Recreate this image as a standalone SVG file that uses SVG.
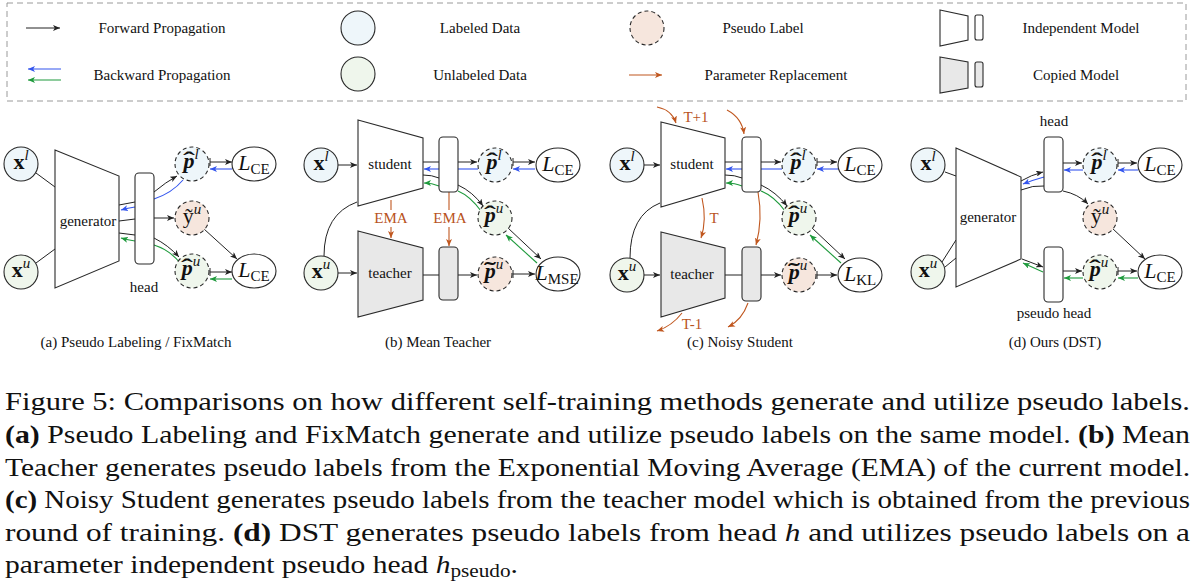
<svg xmlns="http://www.w3.org/2000/svg" width="1195" height="586" viewBox="0 0 1195 586">
<defs>
<marker id="ak" markerUnits="userSpaceOnUse" markerWidth="8" markerHeight="6" refX="7" refY="3" orient="auto"><path d="M0,0 L7,3 L0,6 L1.8,3 z" fill="#222"/></marker>
<marker id="ab" markerUnits="userSpaceOnUse" markerWidth="8" markerHeight="6" refX="7" refY="3" orient="auto"><path d="M0,0 L7,3 L0,6 L1.8,3 z" fill="#3355ee"/></marker>
<marker id="ag" markerUnits="userSpaceOnUse" markerWidth="8" markerHeight="6" refX="7" refY="3" orient="auto"><path d="M0,0 L7,3 L0,6 L1.8,3 z" fill="#1e9a3c"/></marker>
<marker id="ao" markerUnits="userSpaceOnUse" markerWidth="8" markerHeight="6" refX="7" refY="3" orient="auto"><path d="M0,0 L7,3 L0,6 L1.8,3 z" fill="#c0571f"/></marker>
<marker id="tk" markerUnits="userSpaceOnUse" markerWidth="2" markerHeight="8" refX="1" refY="4" orient="auto"><path d="M1,0 L1,8" stroke="#222" stroke-width="1"/></marker>
</defs>
<style>
text{font-family:"Liberation Serif","Times New Roman",serif;fill:#111}
.t{font-size:15px}
.m{font-size:22px}
.sp{font-size:15px;font-style:italic}
.sb{font-size:15px}
.bx{font-weight:bold}
.bi{font-weight:bold;font-style:italic}
.it{font-style:italic}
.hat{font-size:24px;font-weight:bold}
.sh{stroke:#2a2a2a;stroke-width:1.1;fill:#fff}
.cp{fill:#e8e8e8}
.lab{fill:#eef6fa}
.unl{fill:#eff6ec}
.ps{fill:#f6e6dd}
.ds{stroke-dasharray:4 3}
.k{stroke:#222;stroke-width:1;fill:none}
.kb{stroke:#222;stroke-width:1;fill:none;marker-end:url(#ak)}
.kt{stroke:#222;stroke-width:1;fill:none;marker-end:url(#ak);marker-start:url(#tk)}
.b{stroke:#3355ee;stroke-width:1.1;fill:none}
.ba{stroke:#3355ee;stroke-width:1.1;fill:none;marker-end:url(#ab)}
.g{stroke:#1e9a3c;stroke-width:1.1;fill:none}
.ga{stroke:#1e9a3c;stroke-width:1.1;fill:none;marker-end:url(#ag)}
.o{stroke:#c0571f;stroke-width:1.1;fill:none}
.oa{stroke:#c0571f;stroke-width:1.1;fill:none;marker-end:url(#ao)}
.ot{font-size:15px;fill:#b8531c}
.cap{font-size:25px}
</style>
<rect width="1195" height="586" fill="#fff"/>

<g id="legend">
<rect x="7" y="3" width="1179" height="98" fill="none" stroke="#9a9a9a" stroke-width="1" stroke-dasharray="6 4"/>
<line x1="26" y1="28" x2="60" y2="28" class="kb"/>
<text class="t" x="162" y="33" text-anchor="middle">Forward Propagation</text>
<line x1="61" y1="69" x2="28" y2="69" class="ba"/>
<line x1="61" y1="80" x2="28" y2="80" class="ga"/>
<text class="t" x="162" y="80" text-anchor="middle">Backward Propagation</text>
<circle cx="358" cy="28" r="17" class="sh lab"/>
<text class="t" x="480" y="33" text-anchor="middle">Labeled Data</text>
<circle cx="358" cy="74" r="17" class="sh unl"/>
<text class="t" x="480" y="80" text-anchor="middle">Unlabeled Data</text>
<circle cx="647" cy="28" r="17" class="sh ps ds"/>
<text class="t" x="763" y="33" text-anchor="middle">Pseudo Label</text>
<line x1="629" y1="75" x2="662" y2="75" class="oa"/>
<text class="t" x="776" y="80" text-anchor="middle">Parameter Replacement</text>
<polygon points="940,10 968,16 968,40 940,46" class="sh"/>
<rect x="975" y="15" width="8" height="25" rx="2" class="sh"/>
<text class="t" x="1081" y="33" text-anchor="middle">Independent Model</text>
<polygon points="940,57 968,62 968,88 940,93" class="sh cp"/>
<rect x="975" y="62" width="8" height="25" rx="2" class="sh cp"/>
<text class="t" x="1076" y="80" text-anchor="middle">Copied Model</text>
</g>

<g id="connectors">
<!-- (a) -->
<line x1="36" y1="173" x2="55" y2="187" class="k"/>
<line x1="36" y1="263" x2="55" y2="249" class="k" stroke-width="1.6"/>
<line x1="119" y1="205" x2="135" y2="202" class="k"/>
<path d="M135,207 Q128,208 121,210" class="ba"/>
<line x1="119" y1="221" x2="135" y2="219" class="k"/>
<line x1="119" y1="233" x2="135" y2="235" class="k"/>
<path d="M135,241 Q128,240 121,238" class="ga"/>
<path d="M154,192 Q166,182 177,176" class="kb"/>
<path d="M183,180 Q172,193 154,199" class="b"/>
<line x1="154" y1="218" x2="174" y2="218" class="kb"/>
<line x1="204" y1="229" x2="237" y2="259" class="kb"/>
<path d="M154,238 Q168,245 179,257" class="kb"/>
<path d="M181,264 Q170,250 154,245" class="g"/>
<line x1="210" y1="162" x2="232" y2="162" class="kt"/>
<line x1="232" y1="169" x2="210" y2="169" class="ba"/>
<line x1="210" y1="272" x2="232" y2="272" class="kt"/>
<line x1="232" y1="279" x2="210" y2="279" class="ga"/>
<!-- (b) -->
<line x1="338" y1="165" x2="357" y2="165" class="kb"/>
<line x1="338" y1="273" x2="357" y2="273" class="kb"/>
<path d="M324,256 Q324,214 357,202" class="k"/>
<line x1="423" y1="162" x2="439" y2="162" class="k"/>
<line x1="439" y1="169" x2="424" y2="169" class="ba"/>
<path d="M423,175 Q432,175 439,178" class="k"/>
<path d="M439,186 Q432,183 424,183" class="ga"/>
<line x1="458" y1="162" x2="477" y2="162" class="kb"/>
<line x1="478" y1="169" x2="458" y2="169" class="b"/>
<path d="M458,185 Q473,192 483,206" class="kb"/>
<path d="M481,211 Q470,196 458,191" class="g"/>
<line x1="513" y1="162" x2="535" y2="162" class="kt"/>
<line x1="535" y1="169" x2="513" y2="169" class="ba"/>
<line x1="391" y1="200" x2="391" y2="210" class="o"/>
<line x1="391" y1="227" x2="391" y2="238" class="oa"/>
<line x1="449" y1="192" x2="449" y2="210" class="o"/>
<line x1="449" y1="227" x2="449" y2="246" class="oa"/>
<line x1="423" y1="275" x2="439" y2="275" class="k"/>
<line x1="458" y1="275" x2="477" y2="275" class="kb"/>
<line x1="513" y1="274" x2="535" y2="274" class="kt"/>
<line x1="508" y1="228" x2="541" y2="259" class="kb"/>
<line x1="537" y1="263" x2="506" y2="235" class="ga"/>
<!-- (c) -->
<line x1="644" y1="165" x2="660" y2="165" class="kb"/>
<line x1="644" y1="275" x2="660" y2="275" class="kb"/>
<path d="M630,258 Q630,215 660,203" class="k"/>
<line x1="725" y1="162" x2="742" y2="162" class="k"/>
<line x1="742" y1="169" x2="726" y2="169" class="ba"/>
<path d="M725,175 Q735,175 742,178" class="k"/>
<path d="M742,186 Q735,183 726,183" class="ga"/>
<line x1="761" y1="162" x2="781" y2="162" class="kb"/>
<line x1="782" y1="169" x2="761" y2="169" class="b"/>
<path d="M761,185 Q776,192 787,206" class="kb"/>
<path d="M785,211 Q774,196 761,191" class="g"/>
<line x1="817" y1="162" x2="837" y2="162" class="kt"/>
<line x1="838" y1="169" x2="817" y2="169" class="ba"/>
<line x1="812" y1="228" x2="845" y2="259" class="kb"/>
<line x1="841" y1="263" x2="810" y2="235" class="ga"/>
<line x1="725" y1="275" x2="742" y2="275" class="k"/>
<line x1="761" y1="275" x2="781" y2="275" class="kb"/>
<line x1="817" y1="275" x2="837" y2="275" class="kt"/>
<path d="M657,107 Q672,110 676,123" class="oa"/>
<path d="M727,110 Q742,118 744,134" class="oa"/>
<path d="M702,198 Q707,220 701,238" class="oa"/>
<path d="M758,192 Q763,220 756,245" class="oa"/>
<path d="M682,313 Q672,326 657,331" class="oa"/>
<path d="M748,303 Q742,320 728,327" class="oa"/>
<!-- (d) -->
<line x1="945" y1="172" x2="956" y2="176" class="k"/>
<line x1="942" y1="262" x2="956" y2="240" class="k"/>
<line x1="945" y1="267" x2="956" y2="258" class="k"/>
<path d="M1021,181 Q1031,175 1043,172" class="kb"/>
<path d="M1044,177 Q1033,180 1023,184" class="ba"/>
<path d="M1021,190 Q1033,185 1044,186" class="k"/>
<path d="M1063,191 Q1078,194 1088,204" class="kb"/>
<line x1="1063" y1="163" x2="1082" y2="163" class="kb"/>
<line x1="1083" y1="170" x2="1064" y2="170" class="ba"/>
<line x1="1118" y1="163" x2="1137" y2="163" class="kt"/>
<line x1="1138" y1="170" x2="1118" y2="170" class="ba"/>
<line x1="1112" y1="228" x2="1145" y2="259" class="kb"/>
<line x1="1022" y1="259" x2="1043" y2="267" class="kb"/>
<line x1="1043" y1="272" x2="1023" y2="263" class="ga"/>
<line x1="1063" y1="271" x2="1082" y2="271" class="kb"/>
<line x1="1083" y1="278" x2="1064" y2="278" class="ga"/>
<line x1="1118" y1="271" x2="1137" y2="271" class="kt"/>
<line x1="1138" y1="278" x2="1118" y2="278" class="ga"/>
</g>

<!-- Panel (a) -->
<g id="a-xl"><circle cx="21" cy="164" r="17" class="sh lab"/><text x="21" y="169" text-anchor="middle"><tspan class="m bx">x</tspan><tspan class="sp" dy="-9">l</tspan></text></g>
<g id="a-xu"><circle cx="21" cy="272" r="17" class="sh unl"/><text x="21" y="277" text-anchor="middle"><tspan class="m bx">x</tspan><tspan class="sp" dy="-9">u</tspan></text></g>
<g id="a-generator"><polygon points="55,150 119,176 119,261 55,288" class="sh"/><text class="t" x="88" y="226" text-anchor="middle">generator</text></g>
<g id="a-head"><rect x="135" y="173" width="19" height="91" rx="4" class="sh"/><text class="t" x="144" y="292" text-anchor="middle">head</text></g>
<g id="a-pl"><circle cx="192" cy="164" r="17" class="sh lab ds"/><text x="191" y="168" text-anchor="middle"><tspan class="m bi">p</tspan><tspan class="sp" dy="-9">l</tspan></text><text class="hat" x="189" y="168" text-anchor="middle" transform="translate(189 0) scale(1.5 1) translate(-189 0)">ˆ</text></g>
<g id="a-yu"><circle cx="192" cy="218" r="17" class="sh ps ds"/><text x="192" y="223" text-anchor="middle"><tspan class="m">ỹ</tspan><tspan class="sp" dy="-9">u</tspan></text></g>
<g id="a-pu"><circle cx="192" cy="271" r="17" class="sh unl ds"/><text x="191" y="275" text-anchor="middle"><tspan class="m bi">p</tspan><tspan class="sp" dy="-9">u</tspan></text><text class="hat" x="187" y="275" text-anchor="middle" transform="translate(187 0) scale(1.5 1) translate(-187 0)">ˆ</text></g>
<g id="a-lce1"><ellipse cx="254" cy="164" rx="22" ry="17" class="sh"/><text x="254" y="170" text-anchor="middle"><tspan class="m it">L</tspan><tspan class="sb" dy="4">CE</tspan></text></g>
<g id="a-lce2"><ellipse cx="254" cy="271" rx="22" ry="17" class="sh"/><text x="254" y="277" text-anchor="middle"><tspan class="m it">L</tspan><tspan class="sb" dy="4">CE</tspan></text></g>
<text class="t" x="136" y="347" text-anchor="middle">(a) Pseudo Labeling / FixMatch</text>

<!-- Panel (b) -->
<g id="b-xl"><circle cx="321" cy="165" r="17" class="sh lab"/><text x="321" y="170" text-anchor="middle"><tspan class="m bx">x</tspan><tspan class="sp" dy="-9">l</tspan></text></g>
<g id="b-xu"><circle cx="321" cy="273" r="17" class="sh unl"/><text x="321" y="278" text-anchor="middle"><tspan class="m bx">x</tspan><tspan class="sp" dy="-9">u</tspan></text></g>
<g id="b-student"><polygon points="358,120 423,138 423,188 358,206" class="sh"/><text class="t" x="390" y="169" text-anchor="middle">student</text></g>
<g id="b-teacher"><polygon points="358,231 423,248 423,300 358,317" class="sh cp"/><text class="t" x="390" y="278" text-anchor="middle">teacher</text></g>
<g id="b-shead"><rect x="439" y="137" width="19" height="55" rx="4" class="sh"/></g>
<g id="b-thead"><rect x="439" y="247" width="19" height="53" rx="4" class="sh cp"/></g>
<text class="ot" x="391" y="223" text-anchor="middle">EMA</text>
<text class="ot" x="450" y="223" text-anchor="middle">EMA</text>
<g id="b-pl"><circle cx="495" cy="165" r="17" class="sh lab ds"/><text x="494" y="169" text-anchor="middle"><tspan class="m bi">p</tspan><tspan class="sp" dy="-9">l</tspan></text><text class="hat" x="492" y="169" text-anchor="middle" transform="translate(492 0) scale(1.5 1) translate(-492 0)">ˆ</text></g>
<g id="b-pu"><circle cx="495" cy="218" r="17" class="sh unl ds"/><text x="494" y="222" text-anchor="middle"><tspan class="m bi">p</tspan><tspan class="sp" dy="-9">u</tspan></text><text class="hat" x="490" y="222" text-anchor="middle" transform="translate(490 0) scale(1.5 1) translate(-490 0)">ˆ</text></g>
<g id="b-pt"><circle cx="495" cy="274" r="17" class="sh ps ds"/><text x="494" y="278" text-anchor="middle"><tspan class="m bi">p</tspan><tspan class="sp" dy="-9">u</tspan></text><text class="hat" x="490" y="278" text-anchor="middle" transform="translate(490 0) scale(1.5 1) translate(-490 0)">˜</text></g>
<g id="b-lce"><ellipse cx="558" cy="165" rx="22" ry="17" class="sh"/><text x="558" y="171" text-anchor="middle"><tspan class="m it">L</tspan><tspan class="sb" dy="4">CE</tspan></text></g>
<g id="b-lmse"><ellipse cx="558" cy="274" rx="22" ry="17" class="sh"/><text x="557" y="280" text-anchor="middle"><tspan class="m it">L</tspan><tspan class="sb" dy="4" font-size="11.5">MSE</tspan></text></g>
<text class="t" x="438" y="347" text-anchor="middle">(b) Mean Teacher</text>

<!-- Panel (c) -->
<g id="c-xl"><circle cx="627" cy="165" r="17" class="sh lab"/><text x="627" y="170" text-anchor="middle"><tspan class="m bx">x</tspan><tspan class="sp" dy="-9">l</tspan></text></g>
<g id="c-xu"><circle cx="627" cy="275" r="17" class="sh unl"/><text x="627" y="280" text-anchor="middle"><tspan class="m bx">x</tspan><tspan class="sp" dy="-9">u</tspan></text></g>
<g id="c-student"><polygon points="661,122 725,138 725,188 661,207" class="sh"/><text class="t" x="692" y="169" text-anchor="middle">student</text></g>
<g id="c-teacher"><polygon points="661,232 725,248 725,298 661,317" class="sh cp"/><text class="t" x="692" y="279" text-anchor="middle">teacher</text></g>
<g id="c-shead"><rect x="742" y="137" width="19" height="55" rx="4" class="sh"/></g>
<g id="c-thead"><rect x="742" y="247" width="19" height="54" rx="4" class="sh cp"/></g>
<text class="ot" x="696" y="122" text-anchor="middle">T+1</text>
<text class="ot" x="714" y="223" text-anchor="middle">T</text>
<text class="ot" x="692" y="329" text-anchor="middle">T-1</text>
<g id="c-pl"><circle cx="799" cy="165" r="17" class="sh lab ds"/><text x="798" y="169" text-anchor="middle"><tspan class="m bi">p</tspan><tspan class="sp" dy="-9">l</tspan></text><text class="hat" x="796" y="169" text-anchor="middle" transform="translate(796 0) scale(1.5 1) translate(-796 0)">ˆ</text></g>
<g id="c-pu"><circle cx="799" cy="218" r="17" class="sh unl ds"/><text x="798" y="222" text-anchor="middle"><tspan class="m bi">p</tspan><tspan class="sp" dy="-9">u</tspan></text><text class="hat" x="794" y="222" text-anchor="middle" transform="translate(794 0) scale(1.5 1) translate(-794 0)">ˆ</text></g>
<g id="c-pt"><circle cx="799" cy="275" r="17" class="sh ps ds"/><text x="798" y="279" text-anchor="middle"><tspan class="m bi">p</tspan><tspan class="sp" dy="-9">u</tspan></text><text class="hat" x="794" y="279" text-anchor="middle" transform="translate(794 0) scale(1.5 1) translate(-794 0)">˜</text></g>
<g id="c-lce"><ellipse cx="860" cy="165" rx="22" ry="17" class="sh"/><text x="860" y="171" text-anchor="middle"><tspan class="m it">L</tspan><tspan class="sb" dy="4">CE</tspan></text></g>
<g id="c-lkl"><ellipse cx="860" cy="275" rx="22" ry="17" class="sh"/><text x="860" y="281" text-anchor="middle"><tspan class="m it">L</tspan><tspan class="sb" dy="4">KL</tspan></text></g>
<text class="t" x="740" y="347" text-anchor="middle">(c) Noisy Student</text>

<!-- Panel (d) -->
<g id="d-xl"><circle cx="928" cy="165" r="17" class="sh lab"/><text x="928" y="170" text-anchor="middle"><tspan class="m bx">x</tspan><tspan class="sp" dy="-9">l</tspan></text></g>
<g id="d-xu"><circle cx="928" cy="272" r="17" class="sh unl"/><text x="928" y="277" text-anchor="middle"><tspan class="m bx">x</tspan><tspan class="sp" dy="-9">u</tspan></text></g>
<g id="d-generator"><polygon points="956,148 1021,177 1021,259 956,287" class="sh"/><text class="t" x="988" y="222" text-anchor="middle">generator</text></g>
<g id="d-head"><rect x="1044" y="137" width="19" height="55" rx="4" class="sh"/><text class="t" x="1054" y="126" text-anchor="middle">head</text></g>
<g id="d-phead"><rect x="1044" y="247" width="19" height="55" rx="4" class="sh"/><text class="t" x="1054" y="318" text-anchor="middle">pseudo head</text></g>
<g id="d-pl"><circle cx="1100" cy="165" r="17" class="sh lab ds"/><text x="1099" y="169" text-anchor="middle"><tspan class="m bi">p</tspan><tspan class="sp" dy="-9">l</tspan></text><text class="hat" x="1097" y="169" text-anchor="middle" transform="translate(1097 0) scale(1.5 1) translate(-1097 0)">ˆ</text></g>
<g id="d-yu"><circle cx="1100" cy="218" r="17" class="sh ps ds"/><text x="1100" y="223" text-anchor="middle"><tspan class="m">ỹ</tspan><tspan class="sp" dy="-9">u</tspan></text></g>
<g id="d-pu"><circle cx="1100" cy="272" r="17" class="sh unl ds"/><text x="1099" y="276" text-anchor="middle"><tspan class="m bi">p</tspan><tspan class="sp" dy="-9">u</tspan></text><text class="hat" x="1095" y="276" text-anchor="middle" transform="translate(1095 0) scale(1.5 1) translate(-1095 0)">ˆ</text></g>
<g id="d-lce1"><ellipse cx="1160" cy="165" rx="22" ry="17" class="sh"/><text x="1160" y="171" text-anchor="middle"><tspan class="m it">L</tspan><tspan class="sb" dy="4">CE</tspan></text></g>
<g id="d-lce2"><ellipse cx="1160" cy="272" rx="22" ry="17" class="sh"/><text x="1160" y="278" text-anchor="middle"><tspan class="m it">L</tspan><tspan class="sb" dy="4">CE</tspan></text></g>
<text class="t" x="1055" y="347" text-anchor="middle">(d) Ours (DST)</text>

<g id="caption">
<text class="cap" x="5" y="410" textLength="1185" lengthAdjust="spacingAndGlyphs">Figure 5: Comparisons on how different self-training methods generate and utilize pseudo labels.</text>
<text class="cap" x="5" y="443" textLength="1185" lengthAdjust="spacingAndGlyphs"><tspan font-weight="bold">(a)</tspan> Pseudo Labeling and FixMatch generate and utilize pseudo labels on the same model. <tspan font-weight="bold">(b)</tspan> Mean</text>
<text class="cap" x="5" y="476" textLength="1185" lengthAdjust="spacingAndGlyphs">Teacher generates pseudo labels from the Exponential Moving Average (EMA) of the current model.</text>
<text class="cap" x="5" y="508" textLength="1185" lengthAdjust="spacingAndGlyphs"><tspan font-weight="bold">(c)</tspan> Noisy Student generates pseudo labels from the teacher model which is obtained from the previous</text>
<text class="cap" x="5" y="541" textLength="1185" lengthAdjust="spacingAndGlyphs">round of training.  <tspan font-weight="bold">(d)</tspan> DST generates pseudo labels from head <tspan font-style="italic">h</tspan> and utilizes pseudo labels on a</text>
<text class="cap" x="5" y="573" textLength="513" lengthAdjust="spacingAndGlyphs">parameter independent pseudo head <tspan font-style="italic">h</tspan><tspan font-size="18" dy="4">pseudo</tspan><tspan dy="-4">.</tspan></text>
</g>
</svg>
